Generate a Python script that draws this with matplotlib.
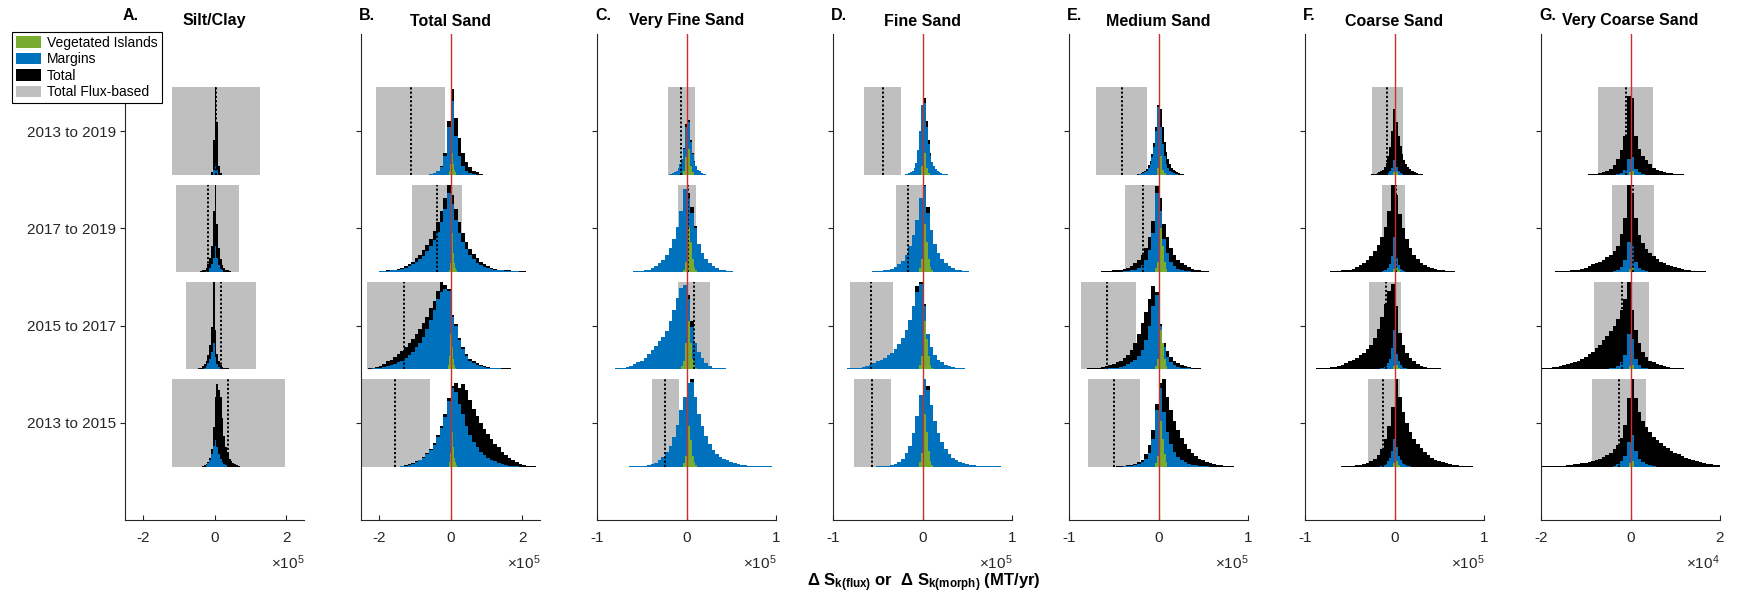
import matplotlib
matplotlib.use("Agg")
import matplotlib.pyplot as plt
from matplotlib.patches import Patch, Rectangle

plt.rcParams['font.family'] = ['Liberation Sans', 'DejaVu Sans']
plt.rcParams['mathtext.fontset'] = 'custom'
plt.rcParams['mathtext.rm'] = 'Liberation Sans'
plt.rcParams['mathtext.bf'] = 'Liberation Sans:bold'
plt.rcParams['mathtext.it'] = 'Liberation Sans:italic'
plt.rcParams['mathtext.default'] = 'regular'

# ============================ DATA ============================
periods = ["2013 to 2019", "2017 to 2019", "2015 to 2017", "2013 to 2015"]   # top -> bottom
period_pos = [4, 3, 2, 1]

panel_letters = ["A.", "B.", "C.", "D.", "E.", "F.", "G."]
panel_titles = ["Silt/Clay", "Total Sand", "Very Fine Sand", "Fine Sand",
                "Medium Sand", "Coarse Sand", "Very Coarse Sand"]
panel_xmax = [2.5e5, 2.5e5, 1e5, 1e5, 1e5, 1e5, 2e4]
panel_ticks = [[-2e5, 0, 2e5], [-2e5, 0, 2e5], [-1e5, 0, 1e5], [-1e5, 0, 1e5],
               [-1e5, 0, 1e5], [-1e5, 0, 1e5], [-2e4, 0, 2e4]]
panel_ticklabels = [["-2", "0", "2"], ["-2", "0", "2"], ["-1", "0", "1"], ["-1", "0", "1"],
                    ["-1", "0", "1"], ["-1", "0", "1"], ["-2", "0", "2"]]
panel_exponent = [5, 5, 5, 5, 5, 5, 4]
panel_zero_line = [False, True, True, True, True, True, True]

# Total flux-based range (grey box) and its mean (dotted line), per period top->bottom
A_flux_lo = [-1.19e5, -1.08e5, -0.81e5, -1.19e5]
A_flux_hi = [1.28e5, 0.69e5, 1.17e5, 1.97e5]
A_flux_mean = [0.05e5, -0.19e5, 0.17e5, 0.38e5]
B_flux_lo = [-2.07e5, -1.07e5, -2.34e5, -2.53e5]
B_flux_hi = [-0.14e5, 0.31e5, -0.30e5, -0.58e5]
B_flux_mean = [-1.09e5, -0.38e5, -1.31e5, -1.55e5]
C_flux_lo = [-0.21e5, -0.09e5, -0.10e5, -0.39e5]
C_flux_hi = [0.09e5, 0.11e5, 0.26e5, -0.086e5]
C_flux_mean = [-0.06e5, 0.015e5, 0.08e5, -0.235e5]
D_flux_lo = [-0.655e5, -0.30e5, -0.81e5, -0.77e5]
D_flux_hi = [-0.24e5, 0.0, -0.335e5, -0.35e5]
D_flux_mean = [-0.44e5, -0.16e5, -0.57e5, -0.56e5]
E_flux_lo = [-0.70e5, -0.376e5, -0.87e5, -0.79e5]
E_flux_hi = [-0.13e5, 0.02e5, -0.25e5, -0.21e5]
E_flux_mean = [-0.41e5, -0.175e5, -0.57e5, -0.50e5]
F_flux_lo = [-0.25e5, -0.14e5, -0.29e5, -0.30e5]
F_flux_hi = [0.097e5, 0.12e5, 0.07e5, 0.06e5]
F_flux_mean = [-0.08e5, 0.02e5, -0.10e5, -0.134e5]
G_flux_lo = [-0.73e4, -0.42e4, -0.81e4, -0.86e4]
G_flux_hi = [0.50e4, 0.52e4, 0.42e4, 0.35e4]
G_flux_mean = [-0.10e4, 0.045e4, -0.19e4, -0.25e4]

# Histograms: (first bin edge, bin width, bin heights in % of row height), per period top->bottom
A_total = [
    (-1e4, 5e3, [3, 40, 100, 60, 10, 2]),
    (-4e4, 5e3, [1, 2, 3, 5, 9, 16, 30, 70, 100, 55, 28, 15, 8, 5, 3, 2, 1]),
    (-4.5e4, 5e3, [1, 2, 4, 6, 10, 16, 28, 48, 100, 45, 18, 9, 5, 3, 2, 1, 1]),
    (-3.5e4, 5e3, [1, 2, 3, 5, 10, 20, 45, 80, 94, 88, 80, 55, 35, 22, 14, 9, 6, 4, 3, 2, 1]),
]
A_marg = [
    (-5e3, 5e3, [6, 12, 6]),
    (-2.5e4, 5e3, [1, 3, 5, 9, 16, 30, 16, 8, 4, 2]),
    (-3e4, 5e3, [2, 4, 7, 12, 20, 30, 14, 6, 3, 1]),
    (-2.5e4, 5e3, [2, 4, 8, 14, 24, 30, 22, 14, 9, 5, 3, 2, 1]),
]
A_veg = [(0, 2.5e3, [2]), (0, 2.5e3, [2]), (0, 2.5e3, [2]), (0, 2.5e3, [2])]

B_total = [
    (-6e4, 1e4, [1, 2, 4, 10, 25, 62, 98, 65, 42, 25, 15, 9, 5, 3, 1]),
    (-2e5, 1e4, [1, 1, 2, 2, 3, 4, 5, 7, 9, 12, 16, 20, 25, 31, 38, 47, 57, 70, 85, 100,
                 88, 72, 57, 45, 35, 27, 21, 16, 12, 9, 7, 5, 4, 3, 3, 2, 2, 1, 1, 1, 1, 0.5, 0.5, 0.5]),
    (-2.3e5, 1e4, [1, 2, 3, 4, 6, 9, 11, 14, 17, 21, 25, 30, 35, 40, 46, 53, 60, 70, 78, 90,
                   100, 96, 92, 62, 52, 36, 25, 17, 12, 9, 7, 5, 4, 3, 2, 2, 1, 1, 1, 1, 0.5, 0.5, 0.5, 0.5]),
    (-1.4e5, 1e4, [1, 2, 3, 4, 6, 8, 11, 15, 20, 27, 36, 46, 60, 78, 92, 95, 90, 94, 88, 76,
                   66, 58, 50, 43, 37, 31, 26, 22, 17, 13, 10, 7, 5, 3, 2, 1, 1, 0.5]),
]
B_marg = [
    (-6e4, 1e4, [1, 2, 4, 9, 22, 55, 85, 45, 22, 10, 5, 2, 1]),
    (-2e5, 1e4, [1, 1, 1, 2, 2, 3, 4, 5, 7, 9, 12, 15, 19, 24, 30, 37, 46, 57, 72, 90,
                 78, 60, 45, 34, 26, 20, 15, 11, 8, 6, 5, 4, 3, 2, 2, 1, 1, 1, 1]),
    (-2.3e5, 1e4, [0.5, 1, 1, 2, 3, 4, 5, 6, 8, 10, 13, 16, 20, 25, 30, 37, 46, 56, 68, 80,
                   88, 92, 90, 60, 50, 34, 23, 15, 10, 7, 5, 4, 3, 2, 1, 1, 1, 0.5]),
    (-1.4e5, 1e4, [0.5, 1, 2, 3, 5, 7, 10, 14, 19, 25, 34, 44, 57, 75, 90, 85, 72, 60, 46, 36,
                   28, 22, 17, 13, 10, 8, 6, 4, 3, 2, 1, 1, 0.5]),
]
B_veg = [
    (-5e3, 2.5e3, [5, 12, 40, 45, 25, 12, 6, 3]),
    (-5e3, 2.5e3, [3, 10, 55, 69, 45, 22, 10, 5, 2]),
    (-7.5e3, 2.5e3, [5, 15, 40, 63, 45, 25, 12, 5, 2]),
    (-5e3, 2.5e3, [5, 15, 45, 60, 40, 22, 10, 5, 2]),
]

C_total = [
    (-2e4, 2e3, [1, 1, 2, 3, 5, 8, 12, 18, 31, 58, 95, 63, 40, 25, 16, 10, 6, 4, 2, 1, 1, 0.5]),
    (-8.4e4, 4e3, [0.5, 0, 0.5, 0.5, 0.5, 0.5, 1, 1, 1.5, 2, 3, 5, 7, 10, 14, 20, 28, 38, 52, 70,
                   95, 90, 74, 53, 32, 22, 15, 10, 7, 5, 3, 2, 1.5, 1, 0.5, 0.5, 0.5, 0, 0.5, 0, 0.5, 0.5, 0.5]),
    (-9.6e4, 4e3, [0.5, 0.5, 0.5, 0.5, 1, 1, 2, 3, 4, 6, 8, 10, 13, 17, 22, 27, 32, 37, 44, 55,
                   68, 82, 93, 96, 85, 55, 30, 20, 13, 7, 4, 2, 1.5, 1, 1, 0.5, 0.5, 0, 0.5, 0, 0, 0.5]),
    (-6.4e4, 4e3, [0.5, 0.5, 0.5, 1, 1, 2, 3, 4, 7, 11, 17, 24, 34, 48, 65, 80, 96, 100, 80, 60,
                   46, 35, 26, 19, 14, 11, 9, 7, 5, 4, 3, 2, 1.5, 1, 1, 0.5, 0.5, 0.5, 0.5, 0.5]),
]
C_marg = [
    (-2e4, 2e3, [1, 1, 2, 3, 5, 8, 12, 18, 30, 55, 90, 60, 38, 24, 15, 10, 6, 4, 2, 1, 1, 0.5]),
    (-8.4e4, 4e3, [0.5, 0, 0.5, 0.5, 0.5, 0.5, 1, 1, 1.5, 2, 3, 5, 7, 10, 14, 20, 28, 38, 52, 70,
                   95, 85, 68, 50, 32, 22, 15, 10, 7, 5, 3, 2, 1.5, 1, 0.5, 0.5, 0.5, 0, 0.5, 0, 0.5, 0.5, 0.5]),
    (-9.6e4, 4e3, [0.5, 0.5, 0.5, 0.5, 1, 1, 2, 3, 4, 6, 8, 10, 13, 17, 22, 27, 32, 37, 44, 55,
                   68, 82, 93, 96, 80, 48, 30, 20, 13, 7, 4, 2, 1.5, 1, 1, 0.5, 0.5, 0, 0.5, 0, 0, 0.5]),
    (-6.4e4, 4e3, [0.5, 0.5, 0.5, 1, 1, 2, 3, 4, 7, 11, 17, 24, 34, 48, 65, 80, 96, 97, 80, 60,
                   46, 35, 26, 19, 14, 11, 9, 7, 5, 4, 3, 2, 1.5, 1, 1, 0.5, 0.5, 0.5, 0.5, 0.5]),
]
C_veg = [
    (-4e3, 2e3, [5, 20, 43, 30, 10, 3]),
    (-4e3, 2e3, [3, 12, 40, 52, 35, 15, 6, 2]),
    (-6e3, 2e3, [4, 10, 30, 65, 55, 30, 12, 5, 2]),
    (-4e3, 2e3, [4, 12, 40, 46, 30, 12, 5, 2]),
]

D_total = [
    (-2.2e4, 2e3, [0.5, 1, 1, 2, 3, 5, 8, 14, 28, 50, 80, 98, 88, 62, 40, 25, 15, 10, 7, 5,
                   3, 2, 1.5, 1, 1, 0.5, 0.5]),
    (-7.2e4, 4e3, [0.5, 0.5, 0.5, 0.5, 1, 1, 1.5, 2, 3, 4, 6, 9, 13, 20, 30, 42, 60, 85, 100, 75,
                   48, 32, 22, 15, 10, 7, 5, 3, 2, 1.5, 1, 0.5, 0.5, 0.5, 0, 0.5, 0, 0.5, 0, 0.5]),
    (-1.0e5, 4e3, [0.5, 0.5, 0.5, 0.5, 1, 1, 1.5, 2, 3, 4, 5, 7, 9, 11, 13, 16, 19, 23, 29, 36,
                   45, 56, 72, 95, 100, 75, 40, 25, 16, 11, 8, 5, 4, 3, 2, 1.5, 1, 0.5, 0.5, 0.5, 0.5]),
    (-5.2e4, 4e3, [0.5, 0.5, 1, 1, 2, 3, 5, 9, 15, 24, 38, 58, 82, 100, 92, 70, 52, 38, 28, 20,
                   14, 10, 7, 5, 4, 3, 2, 1.5, 1, 1, 0.5, 0.5, 0.5, 0.5, 0.5]),
]
D_marg = [
    (-2.2e4, 2e3, [0.5, 1, 1, 2, 3, 5, 8, 14, 28, 50, 80, 95, 82, 55, 35, 22, 15, 10, 7, 5,
                   3, 2, 1.5, 1, 1, 0.5, 0.5]),
    (-7.2e4, 4e3, [0.5, 0.5, 0.5, 0.5, 1, 1, 1.5, 2, 3, 4, 6, 9, 13, 20, 30, 42, 60, 85, 98, 68,
                   48, 32, 22, 15, 10, 7, 5, 3, 2, 1.5, 1, 0.5, 0.5, 0.5, 0, 0.5, 0, 0.5, 0, 0.5]),
    (-1.0e5, 4e3, [0.5, 0.5, 0.5, 0.5, 1, 1, 1.5, 2, 3, 4, 5, 7, 9, 11, 13, 16, 19, 23, 29, 36,
                   45, 56, 72, 88, 97, 72, 40, 25, 16, 11, 8, 5, 4, 3, 2, 1.5, 1, 0.5, 0.5, 0.5, 0.5]),
    (-5.2e4, 4e3, [0.5, 0.5, 1, 1, 2, 3, 5, 9, 15, 24, 38, 58, 82, 100, 88, 70, 52, 38, 28, 20,
                   14, 10, 7, 5, 4, 3, 2, 1.5, 1, 1, 0.5, 0.5, 0.5, 0.5, 0.5]),
]
D_veg = [
    (-2e3, 2e3, [10, 40, 25, 8, 2]),
    (-4e3, 2e3, [5, 15, 45, 55, 35, 15, 6, 2]),
    (-4e3, 2e3, [5, 15, 40, 55, 35, 15, 5, 2]),
    (-4e3, 2e3, [5, 15, 45, 60, 40, 18, 6, 2]),
]

E_total = [
    (-2.6e4, 2e3, [0.5, 1, 1.5, 2, 3, 5, 7, 11, 16, 24, 36, 55, 80, 97, 75, 55, 38, 26, 18, 12,
                   8, 6, 4, 3, 2, 1, 1, 0.5, 0.5, 0.5]),
    (-8e4, 4e3, [0.5, 0.5, 0.5, 0.5, 1, 1, 1.5, 2, 2.5, 3, 4, 5, 7, 10, 14, 20, 28, 40, 58, 98,
                 85, 55, 40, 28, 20, 14, 10, 8, 6, 4, 3, 2, 1.5, 1, 0.5, 0.5, 0.5, 0.5, 0.5]),
    (-9.2e4, 4e3, [0.5, 0.5, 0.5, 1, 1, 1.5, 2, 3, 4, 5, 6, 8, 10, 13, 16, 22, 30, 40, 53, 66,
                   80, 95, 88, 52, 30, 21, 14, 10, 7, 5, 4, 3, 2, 1.5, 1, 0.5, 0.5, 0.5, 0.5, 0.5,
                   0.5, 0.5, 0.5]),
    (-4.8e4, 4e3, [0.5, 1, 1, 1.5, 2, 3, 5, 8, 14, 25, 42, 72, 96, 100, 80, 65, 52, 42, 33, 26,
                   20, 15, 12, 9, 7, 5, 4, 3, 2, 1.5, 1, 0.5, 0.5]),
]
E_marg = [
    (-2.4e4, 2e3, [0.5, 1, 1, 2, 3, 5, 8, 13, 20, 32, 50, 78, 85, 55, 35, 22, 13, 8, 5, 3,
                   2, 1, 1, 0.5]),
    (-4.8e4, 4e3, [0.5, 0.5, 1, 1, 2, 3, 5, 8, 14, 25, 45, 90, 70, 38, 22, 12, 7, 4, 2, 1,
                   1, 0.5, 0.5]),
    (-6.4e4, 4e3, [0.5, 1, 1, 1.5, 2, 3, 4, 6, 8, 11, 15, 22, 33, 50, 72, 85, 50, 25, 14, 8,
                   5, 3, 2, 1, 1, 0.5]),
    (-4e4, 4e3, [0.5, 1, 1, 2, 3, 5, 9, 16, 32, 65, 90, 62, 40, 26, 17, 11, 7, 5, 3, 2,
                 1.5, 1, 0.5, 0.5]),
]
E_veg = [
    (-2e3, 2e3, [8, 35, 22, 6, 2]),
    (-4e3, 2e3, [5, 12, 40, 50, 30, 12, 4]),
    (-4e3, 2e3, [4, 12, 38, 45, 30, 12, 4]),
    (-4e3, 2e3, [4, 12, 40, 52, 32, 14, 5]),
]

F_total = [
    (-3e4, 2e3, [0.5, 0.5, 1, 1, 1.5, 2, 3, 4, 6, 9, 14, 22, 32, 50, 75, 86, 60, 45, 33, 24,
                 17, 12, 9, 7, 5, 4, 3, 2, 1.5, 1, 1, 0.5, 0.5, 0.5, 0.5, 0.5]),
    (-8.4e4, 4e3, [0.5, 0.5, 0.5, 1, 1, 1.5, 2, 2.5, 3, 4, 6, 8, 11, 14, 18, 24, 31, 40, 52, 70,
                   100, 88, 66, 50, 38, 28, 20, 15, 11, 8, 6, 4.5, 3.5, 2.5, 2, 1.5, 1, 1, 0.5, 0.5,
                   0.5, 0.5, 0.5]),
    (-1.0e5, 4e3, [0.5, 0.5, 0.5, 1, 1, 1.5, 2, 2.5, 3, 4, 5, 7, 9, 11, 13, 16, 19, 23, 28, 36,
                   46, 60, 75, 90, 97, 72, 42, 28, 19, 13, 9, 6, 4, 3, 2, 1.5, 1, 1, 0.5, 0.5,
                   0.5, 0.5, 0.5, 0.5, 0.5, 0.5, 0.5, 0.5]),
    (-6e4, 4e3, [0.5, 0.5, 1, 1, 1.5, 2, 3, 4, 6, 9, 13, 20, 31, 46, 68, 100, 80, 62, 50, 40,
                 32, 26, 21, 17, 13, 10, 8, 6, 5, 4, 3, 2, 1.5, 1, 1, 0.5, 0.5]),
]
F_marg = [
    (-1e4, 2e3, [1, 2, 4, 8, 17, 18, 9, 4, 2, 1]),
    (-1.6e4, 2e3, [0.5, 1, 2, 3, 5, 9, 18, 40, 38, 16, 8, 4, 2, 1, 0.5]),
    (-1.6e4, 2e3, [1, 1.5, 2.5, 4, 7, 12, 24, 45, 42, 18, 9, 5, 3, 1.5, 1, 0.5]),
    (-1.6e4, 2e3, [0.5, 1, 2, 3, 6, 10, 18, 32, 38, 22, 12, 7, 4, 2.5, 1.5, 1, 0.5]),
]
F_veg = [
    (-2e3, 2e3, [3, 6, 3]),
    (-2e3, 2e3, [4, 10, 5, 2]),
    (-2e3, 2e3, [4, 10, 5, 2]),
    (-2e3, 2e3, [4, 12, 6, 2]),
]

G_total = [
    (-1.28e4, 800, [0.5, 0.5, 0.5, 0.5, 1, 1, 1.5, 2, 3, 5, 7, 11, 18, 28, 45, 90, 88, 45, 30, 22,
                    17, 12, 8, 6, 4.5, 3.5, 2.5, 2, 1.5, 1, 1, 0.5, 0.5, 0.5]),
    (-2e4, 800, [0.5, 0.5, 0.5, 0.5, 1, 1, 1.5, 1.5, 2, 2.5, 3, 4, 5, 7, 9, 10, 12, 14, 17, 20,
                 24, 30, 44, 62, 100, 88, 62, 42, 33, 27, 22, 18, 15, 12, 10, 8.5, 7, 5.5, 4.5, 3.5,
                 3, 2, 1.5, 1.5, 1, 1, 0.5, 0.5, 0.5, 0.5]),
    (-2e4, 800, [1, 1.5, 2, 2.5, 3, 4, 5, 6, 7, 8.5, 10, 12, 14, 17, 20, 24, 28, 33, 38, 44,
                 50, 58, 68, 80, 100, 68, 45, 30, 20, 14, 10, 8, 6, 4.5, 3.5, 2.5, 2, 1.5, 1, 1,
                 0.5, 0.5, 0.5, 0.5, 0.5, 0.5, 0.5, 0.5, 0.5, 0.5]),
    (-2e4, 800, [0.5, 0.5, 0.5, 0.5, 1, 1, 1, 1.5, 2, 2.5, 3, 3.5, 4, 5, 6, 7, 9, 11, 13, 16,
                 20, 25, 33, 48, 78, 100, 78, 62, 52, 45, 39, 34, 30, 27, 24, 21, 18, 16, 14, 12,
                 10, 8.5, 7, 6, 5, 4, 3, 2.5, 2, 1.5]),
]
G_marg = [
    (-3.2e3, 800, [1, 2, 6, 18, 20, 7, 3, 1]),
    (-4e3, 800, [1, 3, 6, 14, 35, 32, 12, 5, 2, 1]),
    (-4.8e3, 800, [1, 2, 4, 8, 16, 40, 35, 12, 5, 2, 1]),
    (-4e3, 800, [1, 3, 6, 12, 28, 36, 18, 9, 5, 3, 2, 1]),
]
G_veg = [
    (-400, 400, [3, 8, 4]),
    (-400, 400, [4, 10, 5]),
    (-400, 400, [4, 10, 5]),
    (-400, 400, [4, 12, 6]),
]

legend_labels = ["Vegetated Islands", "Margins", "Total", "Total Flux-based"]
xlabel_text = "Δ S$_{\\mathbf{k(flux)}}$ or  Δ S$_{\\mathbf{k(morph)}}$ (MT/yr)"

# ============================ STYLE / LAYOUT ============================
C_GREY, C_BLUE, C_GREEN, C_BLACK = '#bfbfbf', '#0072bd', '#77ac30', '#000000'
C_RED = '#c8302a'
C_AX = '#262626'
HALF = 0.45          # half height of each period row
ROWH = 0.9           # full row height
TICK_FS = 11

W, H = 1737, 597
fig = plt.figure(figsize=(W / 100, H / 100), dpi=100)

ax_left0, ax_step, ax_w = 125, 236, 179
ax_top, ax_bot = 34, 520

flux_lo = [A_flux_lo, B_flux_lo, C_flux_lo, D_flux_lo, E_flux_lo, F_flux_lo, G_flux_lo]
flux_hi = [A_flux_hi, B_flux_hi, C_flux_hi, D_flux_hi, E_flux_hi, F_flux_hi, G_flux_hi]
flux_mean = [A_flux_mean, B_flux_mean, C_flux_mean, D_flux_mean, E_flux_mean, F_flux_mean, G_flux_mean]
totals = [A_total, B_total, C_total, D_total, E_total, F_total, G_total]
margs = [A_marg, B_marg, C_marg, D_marg, E_marg, F_marg, G_marg]
vegs = [A_veg, B_veg, C_veg, D_veg, E_veg, F_veg, G_veg]


def draw_hist(ax, center, spec, color, z):
    start, bw, heights = spec
    edges = [start + i * bw for i in range(len(heights) + 1)]
    base = center - HALF
    vals = [base + h / 100.0 * ROWH for h in heights]
    ax.stairs(vals, edges, baseline=base, fill=True, color=color, lw=0, zorder=z)


for p in range(7):
    left = ax_left0 + p * ax_step
    ax = fig.add_axes([left / W, 1 - ax_bot / H, ax_w / W, (ax_bot - ax_top) / H])
    xm = panel_xmax[p]
    ax.set_xlim(-xm, xm)
    ax.set_ylim(0, 5)

    for r in range(4):
        c = period_pos[r]
        lo, hi = flux_lo[p][r], flux_hi[p][r]
        ax.add_patch(Rectangle((lo, c - HALF), hi - lo, ROWH, facecolor=C_GREY,
                               edgecolor='none', zorder=1))
        draw_hist(ax, c, totals[p][r], C_BLACK, 2)
        draw_hist(ax, c, margs[p][r], C_BLUE, 3)
        draw_hist(ax, c, vegs[p][r], C_GREEN, 4)
        m = flux_mean[p][r]
        ax.plot([m, m], [c - HALF, c + HALF], color='k', lw=1.4,
                ls=(0, (1.1, 1.1)), zorder=5)

    if panel_zero_line[p]:
        ax.axvline(0, color=C_RED, lw=1.0, zorder=6)

    for s in ['top', 'right']:
        ax.spines[s].set_visible(False)
    for s in ['left', 'bottom']:
        ax.spines[s].set_color(C_AX)
        ax.spines[s].set_linewidth(0.8)

    ax.set_xticks(panel_ticks[p])
    ax.set_xticklabels(panel_ticklabels[p])
    ax.set_yticks(period_pos)
    if p == 0:
        ax.set_yticklabels(periods)
    else:
        ax.set_yticklabels([])
    ax.tick_params(axis='x', direction='in', length=3.5, width=0.8, colors=C_AX,
                   labelsize=TICK_FS, pad=8)
    ax.tick_params(axis='y', direction='out', length=3.5, width=0.8, colors=C_AX,
                   labelsize=TICK_FS, pad=3)

    ax.text(1.0, -0.088, r'$\times$10$^{%d}$' % panel_exponent[p], transform=ax.transAxes,
            ha='right', va='center', fontsize=TICK_FS, color=C_AX)

    fig.text((left - 2) / W, 1 - 16 / H, panel_letters[p], ha='left', va='center',
             fontsize=11.5, fontweight='bold', color='k')
    fig.text((left + ax_w / 2) / W, 1 - 21 / H, panel_titles[p], ha='center', va='center',
             fontsize=11.5, fontweight='bold', color='k')

fig.text(924 / W, 1 - 583 / H, xlabel_text, ha='center', va='center',
         fontsize=12, fontweight='bold', color='k')

handles = [Patch(facecolor=C_GREEN, edgecolor='none'),
           Patch(facecolor=C_BLUE, edgecolor='none'),
           Patch(facecolor=C_BLACK, edgecolor='none'),
           Patch(facecolor=C_GREY, edgecolor='none')]
leg = fig.legend(handles, legend_labels, loc='upper left',
                 bbox_to_anchor=(12 / W, 1 - 32 / H), fontsize=10, frameon=True,
                 fancybox=False, framealpha=1, edgecolor='k', handlelength=1.8,
                 handleheight=0.9, handletextpad=0.45, labelspacing=0.18,
                 borderpad=0.28, borderaxespad=0)
leg.get_frame().set_linewidth(0.8)

fig.savefig('out.png', dpi=100)
